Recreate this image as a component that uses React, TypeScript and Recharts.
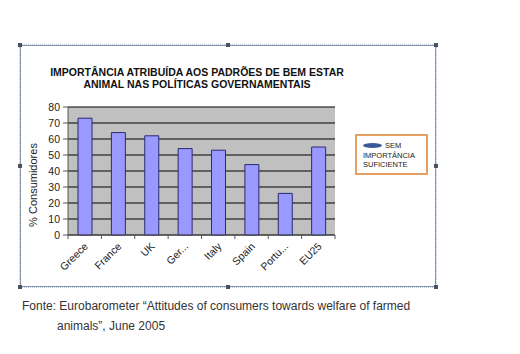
import React from 'react';
import { BarChart, Bar, XAxis, YAxis, CartesianGrid } from 'recharts';

const countries = ['Greece', 'France', 'UK', 'Ger...', 'Italy', 'Spain', 'Portu...', 'EU25'];
const values = [73, 64, 62, 54, 53, 44, 26, 55];
const yTicks = [0, 10, 20, 30, 40, 50, 60, 70, 80];
const legendLines = ['SEM', 'IMPORTÂNCIA', 'SUFICIENTE'];
const titleLines = ['IMPORTÂNCIA ATRIBUÍDA AOS PADRÕES DE BEM ESTAR', 'ANIMAL NAS POLÍTICAS GOVERNAMENTAIS'];
const yLabel = '% Consumidores';
const sourceLines = ['Fonte: Eurobarometer “Attitudes of consumers towards welfare of farmed', 'animals”, June 2005'];

const data = countries.map((c, i) => ({ country: c, value: values[i] }));

const W = 520;
const H = 354;
const PLOT_L = 68;
const PLOT_R = 335;
const PLOT_T = 107;
const PLOT_B = 235;
const BW = (PLOT_R - PLOT_L) / countries.length;
const FONT = 'Arial, "Liberation Sans", Helvetica, sans-serif';

const XTick = (props: any) => {
  const { x, payload, index } = props;
  const tx = x + 4;
  const ty = PLOT_B + 12;
  return (
    <g>
      <line x1={x - BW / 2} y1={PLOT_B} x2={x - BW / 2} y2={PLOT_B + 4} stroke="#555" />
      {index === countries.length - 1 && (
        <line x1={x + BW / 2} y1={PLOT_B} x2={x + BW / 2} y2={PLOT_B + 4} stroke="#555" />
      )}
      <text x={tx} y={ty} transform={`rotate(-45, ${tx}, ${ty})`} textAnchor="end" fontSize={10.5} fill="#222" fontFamily={FONT}>
        {payload.value}
      </text>
    </g>
  );
};

const handle = (left: number, top: number, key: string) => (
  <div key={key} style={{ position: 'absolute', left: left - 2, top: top - 2, width: 4, height: 4, background: '#4a5260' }} />
);

export default function App() {
  const fl = 20, ft = 45, fr = 436, fb = 287;
  return (
    <div style={{ position: 'absolute', left: 0, top: 0, width: W, height: H, background: '#fff', fontFamily: FONT, overflow: 'hidden' }}>
      <div style={{ position: 'absolute', left: fl, top: ft, width: fr - fl, height: fb - ft, border: '1px solid #8a96a6', boxSizing: 'border-box', outline: '1px dotted #b8c8e0', outlineOffset: 0 }} />
      {handle(fl, ft, 'a')}
      {handle((fl + fr) / 2, ft, 'b')}
      {handle(fr, ft, 'c')}
      {handle(fl, (ft + fb) / 2, 'd')}
      {handle(fr, (ft + fb) / 2, 'e')}
      {handle(fl, fb, 'f')}
      {handle((fl + fr) / 2, fb, 'g')}
      {handle(fr, fb, 'h')}
      <div style={{ position: 'absolute', left: 0, top: 0 }}>
        <BarChart width={W} height={H} data={data} margin={{ top: PLOT_T, right: W - PLOT_R, bottom: 0, left: 0 }} barCategoryGap={0}>
          <CartesianGrid vertical={false} stroke="#000" strokeWidth={1} fill="#c0c0c0" fillOpacity={1} />
          <XAxis dataKey="country" tick={<XTick />} tickLine={false} axisLine={{ stroke: '#555' }} interval={0} height={H - PLOT_B} />
          <YAxis width={PLOT_L} domain={[0, 80]} ticks={yTicks} interval={0} tickSize={5} tickMargin={3} tickLine={{ stroke: '#555' }} axisLine={{ stroke: '#555' }} tick={{ fontSize: 10.5, fill: '#222', fontFamily: FONT }}
            label={() => (
              <text x={37} y={185} transform="rotate(-90, 37, 185)" textAnchor="middle" fontSize={11} fill="#222" fontFamily={FONT}>{yLabel}</text>
            )} />
          <Bar dataKey="value" name={legendLines.join(' ')} fill="#9999ff" stroke="#2a2a70" strokeWidth={1} barSize={14} isAnimationActive={false} />
        </BarChart>
      </div>
      <div style={{ position: 'absolute', left: 355, top: 134, width: 63, height: 35, border: '2px solid #e6a060', fontSize: 7.5, color: '#222', lineHeight: '9.5px', padding: '2px 0 0 6px' }}>
        <div style={{ display: 'flex', alignItems: 'center', marginTop: 3 }}>
          <span style={{ display: 'inline-block', width: 19, height: 5, borderRadius: '50%', background: '#3a5a9a', marginRight: 3 }} />
          <span>{legendLines[0]}</span>
        </div>
        <div>{legendLines[1]}</div>
        <div>{legendLines[2]}</div>
      </div>
      <div style={{ position: 'absolute', left: 0, top: 66, width: 394, textAlign: 'center', fontWeight: 'bold', fontSize: 10.5, lineHeight: '12px', color: '#111' }}>
        <div>{titleLines[0]}</div>
        <div>{titleLines[1]}</div>
      </div>
      <div style={{ position: 'absolute', left: 22, top: 296, fontSize: 12, color: '#333', lineHeight: '20px', whiteSpace: 'nowrap' }}>
        <div>{sourceLines[0]}</div>
        <div style={{ paddingLeft: 35 }}>{sourceLines[1]}</div>
      </div>
    </div>
  );
}
